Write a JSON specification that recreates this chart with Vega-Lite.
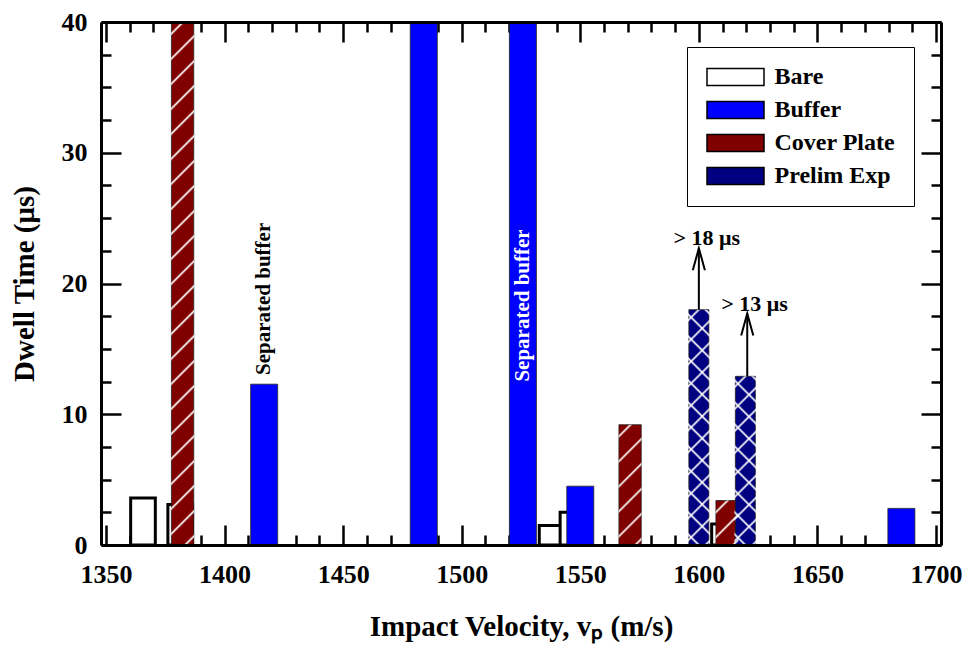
{
  "$schema": "https://vega.github.io/schema/vega-lite/v6.json",
  "width": 840,
  "height": 523,
  "autosize": {"type": "none"},
  "padding": {"left": 101, "top": 22, "right": 26, "bottom": 104},
  "background": "white",
  "config": {"view": {"stroke": null}, "font": "Liberation Serif"},
  "datasets": {
    "bars": [
      {"series": "Bare", "v": 1365.6, "t": 3.6},
      {"series": "Bare", "v": 1381.3, "t": 3.1},
      {"series": "Bare", "v": 1537.9, "t": 1.5},
      {"series": "Bare", "v": 1546.7, "t": 2.5},
      {"series": "Bare", "v": 1610.6, "t": 1.6},
      {"series": "Buffer", "v": 1416.7, "t": 12.3},
      {"series": "Buffer", "v": 1484.0, "t": 40},
      {"series": "Buffer", "v": 1525.8, "t": 40},
      {"series": "Buffer", "v": 1550.0, "t": 4.5},
      {"series": "Buffer", "v": 1685.4, "t": 2.8},
      {"series": "Cover Plate", "v": 1382.3, "t": 40},
      {"series": "Cover Plate", "v": 1571.0, "t": 9.2},
      {"series": "Cover Plate", "v": 1611.9, "t": 3.4},
      {"series": "Prelim Exp", "v": 1600.0, "t": 18.0},
      {"series": "Prelim Exp", "v": 1619.6, "t": 12.9}
    ],
    "notesDark": [{"v": 1416.7, "t": 13.0, "label": "Separated buffer"}],
    "notesLight": [{"v": 1525.8, "t": 12.5, "label": "Separated buffer"}],
    "arrows": [
      {"v": 1600.0, "t": 18.0, "t2": 22.7, "label": "> 18 μs", "lv": 1603.3, "lt": 23.5},
      {"v": 1620.4, "t": 12.9, "t2": 17.7, "label": "> 13 μs", "lv": 1623.5, "lt": 18.4}
    ]
  },
  "layer": [
    {
      "data": {"name": "bars"},
      "mark": {"type": "bar", "clip": true},
      "encoding": {
        "x": {
          "field": "v", "type": "quantitative",
          "scale": {"domain": [1350, 1700], "nice": false, "zero": false},
          "axis": {
            "orient": "bottom", "values": [1350, 1400, 1450, 1500, 1550, 1600, 1650, 1700], "format": "d",
            "tickSize": -20, "tickWidth": 2.5, "tickColor": "black", "domain": false, "grid": false,
            "labelFont": "Liberation Serif", "labelFontSize": 26, "labelFontWeight": "bold", "labelColor": "black",
            "labelPadding": 36, "labelFlush": false, "labelOverlap": false,
            "title": "Impact Velocity, vₚ (m/s)", "titleFont": "Liberation Serif", "titleFontSize": 29,
            "titleFontWeight": "bold", "titleColor": "black", "titlePadding": 25, "zindex": 0
          }
        },
        "y": {
          "field": "t", "type": "quantitative", "stack": null,
          "scale": {"domain": [0, 40], "nice": false},
          "axis": {
            "orient": "left", "values": [0, 10, 20, 30, 40], "format": "d",
            "tickSize": -20, "tickWidth": 2.5, "tickColor": "black", "domain": true, "domainWidth": 3, "domainColor": "black", "grid": false,
            "labelFont": "Liberation Serif", "labelFontSize": 26, "labelFontWeight": "bold", "labelColor": "black",
            "labelPadding": 34, "labelFlush": false, "labelOverlap": false,
            "title": "Dwell Time (μs)", "titleFont": "Liberation Serif", "titleFontSize": 29,
            "titleFontWeight": "bold", "titleColor": "black", "titlePadding": 22, "zindex": 0
          }
        },
        "fill": {
          "field": "series", "type": "nominal",
          "scale": {"domain": ["Bare", "Buffer", "Cover Plate", "Prelim Exp"], "range": ["white", "#0000ff", "#800000", "#000080"]},
          "legend": {
            "title": null, "orient": "none", "legendX": 586, "legendY": 25,
            "strokeColor": "black", "padding": 18, "fillColor": "white",
            "symbolType": "M-2.85,-0.85H2.85V0.85H-2.85Z", "symbolSize": 400, "symbolOffset": 18.5,
            "symbolStrokeColor": "black", "symbolStrokeWidth": 1.5,
            "labelFont": "Liberation Serif", "labelFontSize": 24, "labelFontWeight": "bold", "labelColor": "black",
            "labelOffset": 27, "rowPadding": 9
          }
        },
        "stroke": {
          "condition": {"test": "datum.series === 'Bare'", "value": "black"},
          "value": "#222222"
        },
        "strokeWidth": {
          "condition": {"test": "datum.series === 'Bare'", "value": 3},
          "value": 0.8
        },
        "size": {
          "field": "series", "type": "nominal",
          "scale": {"domain": ["Buffer", "Bare", "Cover Plate", "Prelim Exp"], "range": [27, 20, 23, 22]},
          "legend": null
        }
      }
    },
    {
      "data": {"name": "bars"},
      "transform": [{"filter": "datum.series === 'Cover Plate' && datum.v == 1382.3"}],
      "mark": {"type": "bar", "clip": true, "size": 23, "fill": {"gradient": "linear", "x1": 0, "y1": 0, "x2": 0.0458, "y2": 1.042, "stops": [
        {"offset": 0.0176, "color": "#ffffff00"}, {"offset": 0.0220, "color": "#ffffff"}, {"offset": 0.0264, "color": "#ffffff00"},
        {"offset": 0.0634, "color": "#ffffff00"}, {"offset": 0.0678, "color": "#ffffff"}, {"offset": 0.0722, "color": "#ffffff00"},
        {"offset": 0.1092, "color": "#ffffff00"}, {"offset": 0.1136, "color": "#ffffff"}, {"offset": 0.1180, "color": "#ffffff00"},
        {"offset": 0.1549, "color": "#ffffff00"}, {"offset": 0.1593, "color": "#ffffff"}, {"offset": 0.1637, "color": "#ffffff00"},
        {"offset": 0.2007, "color": "#ffffff00"}, {"offset": 0.2051, "color": "#ffffff"}, {"offset": 0.2095, "color": "#ffffff00"},
        {"offset": 0.2465, "color": "#ffffff00"}, {"offset": 0.2509, "color": "#ffffff"}, {"offset": 0.2553, "color": "#ffffff00"},
        {"offset": 0.2923, "color": "#ffffff00"}, {"offset": 0.2967, "color": "#ffffff"}, {"offset": 0.3011, "color": "#ffffff00"},
        {"offset": 0.3381, "color": "#ffffff00"}, {"offset": 0.3425, "color": "#ffffff"}, {"offset": 0.3469, "color": "#ffffff00"},
        {"offset": 0.3839, "color": "#ffffff00"}, {"offset": 0.3883, "color": "#ffffff"}, {"offset": 0.3927, "color": "#ffffff00"},
        {"offset": 0.4297, "color": "#ffffff00"}, {"offset": 0.4341, "color": "#ffffff"}, {"offset": 0.4385, "color": "#ffffff00"},
        {"offset": 0.4755, "color": "#ffffff00"}, {"offset": 0.4799, "color": "#ffffff"}, {"offset": 0.4843, "color": "#ffffff00"},
        {"offset": 0.5212, "color": "#ffffff00"}, {"offset": 0.5256, "color": "#ffffff"}, {"offset": 0.5300, "color": "#ffffff00"},
        {"offset": 0.5670, "color": "#ffffff00"}, {"offset": 0.5714, "color": "#ffffff"}, {"offset": 0.5758, "color": "#ffffff00"},
        {"offset": 0.6128, "color": "#ffffff00"}, {"offset": 0.6172, "color": "#ffffff"}, {"offset": 0.6216, "color": "#ffffff00"},
        {"offset": 0.6586, "color": "#ffffff00"}, {"offset": 0.6630, "color": "#ffffff"}, {"offset": 0.6674, "color": "#ffffff00"},
        {"offset": 0.7044, "color": "#ffffff00"}, {"offset": 0.7088, "color": "#ffffff"}, {"offset": 0.7132, "color": "#ffffff00"},
        {"offset": 0.7502, "color": "#ffffff00"}, {"offset": 0.7546, "color": "#ffffff"}, {"offset": 0.7590, "color": "#ffffff00"},
        {"offset": 0.7960, "color": "#ffffff00"}, {"offset": 0.8004, "color": "#ffffff"}, {"offset": 0.8048, "color": "#ffffff00"},
        {"offset": 0.8418, "color": "#ffffff00"}, {"offset": 0.8462, "color": "#ffffff"}, {"offset": 0.8506, "color": "#ffffff00"},
        {"offset": 0.8875, "color": "#ffffff00"}, {"offset": 0.8919, "color": "#ffffff"}, {"offset": 0.8963, "color": "#ffffff00"},
        {"offset": 0.9333, "color": "#ffffff00"}, {"offset": 0.9377, "color": "#ffffff"}, {"offset": 0.9421, "color": "#ffffff00"},
        {"offset": 0.9791, "color": "#ffffff00"}, {"offset": 0.9835, "color": "#ffffff"}, {"offset": 0.9879, "color": "#ffffff00"}
      ]}},
      "encoding": {
        "x": {"field": "v", "type": "quantitative", "axis": null},
        "y": {"field": "t", "type": "quantitative", "stack": null, "axis": null}
      }
    },
    {
      "data": {"name": "bars"},
      "transform": [{"filter": "datum.series === 'Cover Plate' && datum.v == 1571.0"}],
      "mark": {"type": "bar", "clip": true, "size": 23, "fill": {"gradient": "linear", "x1": 0, "y1": 0, "x2": 0.2197, "y2": 1.1492, "stops": [
        {"offset": 0.0670, "color": "#ffffff00"}, {"offset": 0.0837, "color": "#ffffff"}, {"offset": 0.1004, "color": "#ffffff00"},
        {"offset": 0.2415, "color": "#ffffff00"}, {"offset": 0.2582, "color": "#ffffff"}, {"offset": 0.2749, "color": "#ffffff00"},
        {"offset": 0.4160, "color": "#ffffff00"}, {"offset": 0.4327, "color": "#ffffff"}, {"offset": 0.4494, "color": "#ffffff00"},
        {"offset": 0.5904, "color": "#ffffff00"}, {"offset": 0.6071, "color": "#ffffff"}, {"offset": 0.6238, "color": "#ffffff00"},
        {"offset": 0.7649, "color": "#ffffff00"}, {"offset": 0.7816, "color": "#ffffff"}, {"offset": 0.7983, "color": "#ffffff00"},
        {"offset": 0.9394, "color": "#ffffff00"}, {"offset": 0.9561, "color": "#ffffff"}, {"offset": 0.9728, "color": "#ffffff00"}
      ]}},
      "encoding": {
        "x": {"field": "v", "type": "quantitative", "axis": null},
        "y": {"field": "t", "type": "quantitative", "stack": null, "axis": null}
      }
    },
    {
      "data": {"name": "bars"},
      "transform": [{"filter": "datum.series === 'Cover Plate' && datum.v == 1611.9"}],
      "mark": {"type": "bar", "clip": true, "size": 23, "fill": {"gradient": "linear", "x1": 0, "y1": 0, "x2": 0.6188, "y2": 1.1972, "stops": [
        {"offset": 0.1424, "color": "#ffffff00"}, {"offset": 0.1780, "color": "#ffffff"}, {"offset": 0.2136, "color": "#ffffff00"},
        {"offset": 0.5124, "color": "#ffffff00"}, {"offset": 0.5480, "color": "#ffffff"}, {"offset": 0.5836, "color": "#ffffff00"},
        {"offset": 0.8834, "color": "#ffffff00"}, {"offset": 0.9190, "color": "#ffffff"}, {"offset": 0.9546, "color": "#ffffff00"}
      ]}},
      "encoding": {
        "x": {"field": "v", "type": "quantitative", "axis": null},
        "y": {"field": "t", "type": "quantitative", "stack": null, "axis": null}
      }
    },
    {
      "data": {"name": "bars"},
      "transform": [{"filter": "datum.series === 'Prelim Exp' && datum.v == 1600.0"}],
      "mark": {"type": "bar", "clip": true, "size": 22, "fill": {"gradient": "linear", "x1": 0, "y1": 0, "x2": 0.1013, "y2": 1.084, "stops": [
        {"offset": 0.0334, "color": "#ffffff00"}, {"offset": 0.0427, "color": "#ffffff"}, {"offset": 0.0520, "color": "#ffffff00"},
        {"offset": 0.1189, "color": "#ffffff00"}, {"offset": 0.1282, "color": "#ffffff"}, {"offset": 0.1375, "color": "#ffffff00"},
        {"offset": 0.2044, "color": "#ffffff00"}, {"offset": 0.2137, "color": "#ffffff"}, {"offset": 0.2230, "color": "#ffffff00"},
        {"offset": 0.2898, "color": "#ffffff00"}, {"offset": 0.2991, "color": "#ffffff"}, {"offset": 0.3084, "color": "#ffffff00"},
        {"offset": 0.3753, "color": "#ffffff00"}, {"offset": 0.3846, "color": "#ffffff"}, {"offset": 0.3939, "color": "#ffffff00"},
        {"offset": 0.4608, "color": "#ffffff00"}, {"offset": 0.4701, "color": "#ffffff"}, {"offset": 0.4794, "color": "#ffffff00"},
        {"offset": 0.5463, "color": "#ffffff00"}, {"offset": 0.5556, "color": "#ffffff"}, {"offset": 0.5649, "color": "#ffffff00"},
        {"offset": 0.6317, "color": "#ffffff00"}, {"offset": 0.6410, "color": "#ffffff"}, {"offset": 0.6503, "color": "#ffffff00"},
        {"offset": 0.7172, "color": "#ffffff00"}, {"offset": 0.7265, "color": "#ffffff"}, {"offset": 0.7358, "color": "#ffffff00"},
        {"offset": 0.8027, "color": "#ffffff00"}, {"offset": 0.8120, "color": "#ffffff"}, {"offset": 0.8213, "color": "#ffffff00"},
        {"offset": 0.8881, "color": "#ffffff00"}, {"offset": 0.8974, "color": "#ffffff"}, {"offset": 0.9067, "color": "#ffffff00"},
        {"offset": 0.9736, "color": "#ffffff00"}, {"offset": 0.9829, "color": "#ffffff"}, {"offset": 0.9922, "color": "#ffffff00"}
      ]}},
      "encoding": {
        "x": {"field": "v", "type": "quantitative", "axis": null},
        "y": {"field": "t", "type": "quantitative", "stack": null, "axis": null}
      }
    },
    {
      "data": {"name": "bars"},
      "transform": [{"filter": "datum.series === 'Prelim Exp' && datum.v == 1600.0"}],
      "mark": {"type": "bar", "clip": true, "size": 22, "fill": {"gradient": "linear", "x1": 0, "y1": 1, "x2": 0.1013, "y2": -0.084, "stops": [
        {"offset": 0.0334, "color": "#ffffff00"}, {"offset": 0.0427, "color": "#ffffff"}, {"offset": 0.0520, "color": "#ffffff00"},
        {"offset": 0.1189, "color": "#ffffff00"}, {"offset": 0.1282, "color": "#ffffff"}, {"offset": 0.1375, "color": "#ffffff00"},
        {"offset": 0.2044, "color": "#ffffff00"}, {"offset": 0.2137, "color": "#ffffff"}, {"offset": 0.2230, "color": "#ffffff00"},
        {"offset": 0.2898, "color": "#ffffff00"}, {"offset": 0.2991, "color": "#ffffff"}, {"offset": 0.3084, "color": "#ffffff00"},
        {"offset": 0.3753, "color": "#ffffff00"}, {"offset": 0.3846, "color": "#ffffff"}, {"offset": 0.3939, "color": "#ffffff00"},
        {"offset": 0.4608, "color": "#ffffff00"}, {"offset": 0.4701, "color": "#ffffff"}, {"offset": 0.4794, "color": "#ffffff00"},
        {"offset": 0.5463, "color": "#ffffff00"}, {"offset": 0.5556, "color": "#ffffff"}, {"offset": 0.5649, "color": "#ffffff00"},
        {"offset": 0.6317, "color": "#ffffff00"}, {"offset": 0.6410, "color": "#ffffff"}, {"offset": 0.6503, "color": "#ffffff00"},
        {"offset": 0.7172, "color": "#ffffff00"}, {"offset": 0.7265, "color": "#ffffff"}, {"offset": 0.7358, "color": "#ffffff00"},
        {"offset": 0.8027, "color": "#ffffff00"}, {"offset": 0.8120, "color": "#ffffff"}, {"offset": 0.8213, "color": "#ffffff00"},
        {"offset": 0.8881, "color": "#ffffff00"}, {"offset": 0.8974, "color": "#ffffff"}, {"offset": 0.9067, "color": "#ffffff00"},
        {"offset": 0.9736, "color": "#ffffff00"}, {"offset": 0.9829, "color": "#ffffff"}, {"offset": 0.9922, "color": "#ffffff00"}
      ]}},
      "encoding": {
        "x": {"field": "v", "type": "quantitative", "axis": null},
        "y": {"field": "t", "type": "quantitative", "stack": null, "axis": null}
      }
    },
    {
      "data": {"name": "bars"},
      "transform": [{"filter": "datum.series === 'Prelim Exp' && datum.v == 1619.6"}],
      "mark": {"type": "bar", "clip": true, "size": 22, "fill": {"gradient": "linear", "x1": 0, "y1": 0, "x2": 0.145, "y2": 1.1116, "stops": [
        {"offset": 0.0451, "color": "#ffffff00"}, {"offset": 0.0577, "color": "#ffffff"}, {"offset": 0.0703, "color": "#ffffff00"},
        {"offset": 0.1604, "color": "#ffffff00"}, {"offset": 0.1730, "color": "#ffffff"}, {"offset": 0.1856, "color": "#ffffff00"},
        {"offset": 0.2758, "color": "#ffffff00"}, {"offset": 0.2884, "color": "#ffffff"}, {"offset": 0.3010, "color": "#ffffff00"},
        {"offset": 0.3912, "color": "#ffffff00"}, {"offset": 0.4038, "color": "#ffffff"}, {"offset": 0.4164, "color": "#ffffff00"},
        {"offset": 0.5065, "color": "#ffffff00"}, {"offset": 0.5191, "color": "#ffffff"}, {"offset": 0.5317, "color": "#ffffff00"},
        {"offset": 0.6219, "color": "#ffffff00"}, {"offset": 0.6345, "color": "#ffffff"}, {"offset": 0.6471, "color": "#ffffff00"},
        {"offset": 0.7373, "color": "#ffffff00"}, {"offset": 0.7499, "color": "#ffffff"}, {"offset": 0.7625, "color": "#ffffff00"},
        {"offset": 0.8526, "color": "#ffffff00"}, {"offset": 0.8652, "color": "#ffffff"}, {"offset": 0.8778, "color": "#ffffff00"},
        {"offset": 0.9680, "color": "#ffffff00"}, {"offset": 0.9806, "color": "#ffffff"}, {"offset": 0.9932, "color": "#ffffff00"}
      ]}},
      "encoding": {
        "x": {"field": "v", "type": "quantitative", "axis": null},
        "y": {"field": "t", "type": "quantitative", "stack": null, "axis": null}
      }
    },
    {
      "data": {"name": "bars"},
      "transform": [{"filter": "datum.series === 'Prelim Exp' && datum.v == 1619.6"}],
      "mark": {"type": "bar", "clip": true, "size": 22, "fill": {"gradient": "linear", "x1": 0, "y1": 1, "x2": 0.145, "y2": -0.1116, "stops": [
        {"offset": 0.0451, "color": "#ffffff00"}, {"offset": 0.0577, "color": "#ffffff"}, {"offset": 0.0703, "color": "#ffffff00"},
        {"offset": 0.1604, "color": "#ffffff00"}, {"offset": 0.1730, "color": "#ffffff"}, {"offset": 0.1856, "color": "#ffffff00"},
        {"offset": 0.2758, "color": "#ffffff00"}, {"offset": 0.2884, "color": "#ffffff"}, {"offset": 0.3010, "color": "#ffffff00"},
        {"offset": 0.3912, "color": "#ffffff00"}, {"offset": 0.4038, "color": "#ffffff"}, {"offset": 0.4164, "color": "#ffffff00"},
        {"offset": 0.5065, "color": "#ffffff00"}, {"offset": 0.5191, "color": "#ffffff"}, {"offset": 0.5317, "color": "#ffffff00"},
        {"offset": 0.6219, "color": "#ffffff00"}, {"offset": 0.6345, "color": "#ffffff"}, {"offset": 0.6471, "color": "#ffffff00"},
        {"offset": 0.7373, "color": "#ffffff00"}, {"offset": 0.7499, "color": "#ffffff"}, {"offset": 0.7625, "color": "#ffffff00"},
        {"offset": 0.8526, "color": "#ffffff00"}, {"offset": 0.8652, "color": "#ffffff"}, {"offset": 0.8778, "color": "#ffffff00"},
        {"offset": 0.9680, "color": "#ffffff00"}, {"offset": 0.9806, "color": "#ffffff"}, {"offset": 0.9932, "color": "#ffffff00"}
      ]}},
      "encoding": {
        "x": {"field": "v", "type": "quantitative", "axis": null},
        "y": {"field": "t", "type": "quantitative", "stack": null, "axis": null}
      }
    },
    {
      "data": {"name": "notesDark"},
      "mark": {"type": "text", "angle": 270, "align": "left", "baseline": "middle", "font": "Liberation Serif", "fontWeight": "bold", "fontSize": 21, "color": "black"},
      "encoding": {
        "x": {"field": "v", "type": "quantitative", "axis": {
          "orient": "bottom", "values": [1360,1370,1380,1390,1410,1420,1430,1440,1460,1470,1480,1490,1510,1520,1530,1540,1560,1570,1580,1590,1610,1620,1630,1640,1660,1670,1680,1690],
          "tickSize": -10, "tickWidth": 2.5, "tickColor": "black", "labels": false, "domain": false, "grid": false, "title": null, "zindex": 0}},
        "y": {"field": "t", "type": "quantitative", "axis": {
          "orient": "left", "values": [2.5,5,7.5,12.5,15,17.5,22.5,25,27.5,32.5,35,37.5],
          "tickSize": -10, "tickWidth": 2.5, "tickColor": "black", "labels": false, "domain": false, "grid": false, "title": null, "zindex": 0}},
        "text": {"field": "label"}
      }
    },
    {
      "data": {"name": "notesLight"},
      "mark": {"type": "text", "angle": 270, "align": "left", "baseline": "middle", "font": "Liberation Serif", "fontWeight": "bold", "fontSize": 21, "color": "white"},
      "encoding": {
        "x": {"field": "v", "type": "quantitative", "axis": {
          "orient": "top", "values": [1350, 1400, 1450, 1500, 1550, 1600, 1650, 1700],
          "tickSize": -20, "tickWidth": 2.5, "tickColor": "black", "labels": false, "domain": false, "grid": false, "title": null, "zindex": 0}},
        "y": {"field": "t", "type": "quantitative", "axis": {
          "orient": "right", "values": [0, 10, 20, 30, 40],
          "tickSize": -20, "tickWidth": 2.5, "tickColor": "black", "labels": false, "domain": true, "domainWidth": 3, "domainColor": "black", "grid": false, "title": null, "zindex": 0}},
        "text": {"field": "label"}
      }
    },
    {
      "data": {"name": "arrows"},
      "mark": {"type": "rule", "strokeWidth": 2, "color": "black"},
      "encoding": {
        "x": {"field": "v", "type": "quantitative", "axis": {
          "orient": "top", "values": [1360,1370,1380,1390,1410,1420,1430,1440,1460,1470,1480,1490,1510,1520,1530,1540,1560,1570,1580,1590,1610,1620,1630,1640,1660,1670,1680,1690],
          "tickSize": -10, "tickWidth": 2.5, "tickColor": "black", "labels": false, "domain": false, "grid": false, "title": null, "zindex": 0}},
        "y": {"field": "t", "type": "quantitative", "axis": {
          "orient": "right", "values": [2.5,5,7.5,12.5,15,17.5,22.5,25,27.5,32.5,35,37.5],
          "tickSize": -10, "tickWidth": 2.5, "tickColor": "black", "labels": false, "domain": false, "grid": false, "title": null, "zindex": 0}},
        "y2": {"field": "t2"}
      }
    },
    {
      "data": {"name": "arrows"},
      "mark": {"type": "point", "shape": "M-0.55,2L0,0L0.55,2", "size": 484, "filled": false, "stroke": "black", "strokeWidth": 2, "opacity": 1},
      "encoding": {
        "x": {"field": "v", "type": "quantitative", "axis": {
          "orient": "bottom", "ticks": false, "labels": false, "domain": true, "domainWidth": 3, "domainColor": "black", "grid": false, "title": null, "zindex": 1}},
        "y": {"field": "t2", "type": "quantitative", "axis": null}
      }
    },
    {
      "data": {"name": "arrows"},
      "mark": {"type": "text", "align": "center", "baseline": "middle", "font": "Liberation Serif", "fontWeight": "bold", "fontSize": 22, "color": "black"},
      "encoding": {
        "x": {"field": "lv", "type": "quantitative", "axis": {
          "orient": "top", "ticks": false, "labels": false, "domain": true, "domainWidth": 3, "domainColor": "black", "grid": false, "title": null, "zindex": 1}},
        "y": {"field": "lt", "type": "quantitative", "axis": null},
        "text": {"field": "label"}
      }
    }
  ],
  "resolve": {"axis": {"x": "independent", "y": "independent"}}
}
